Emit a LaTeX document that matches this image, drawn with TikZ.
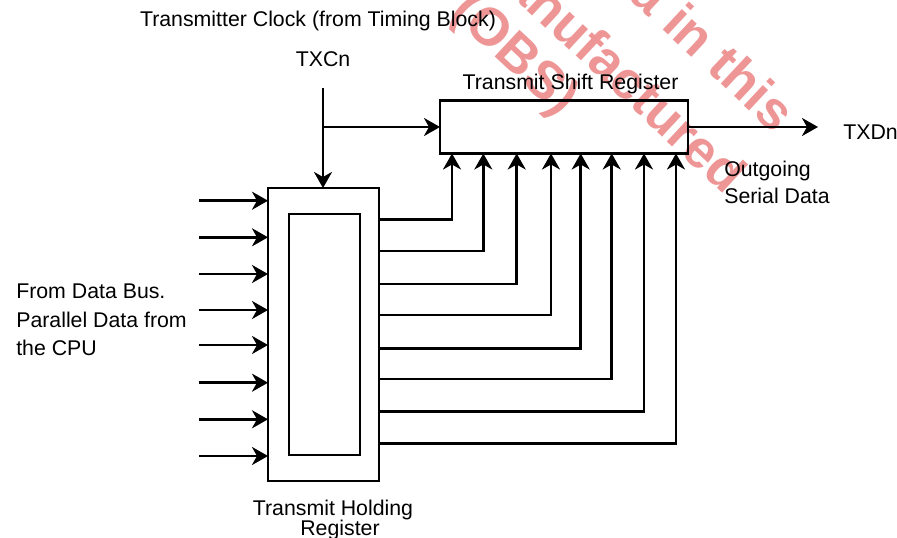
\documentclass[tikz,border=0pt]{standalone}
\usepackage{fontspec}
\setmainfont{Liberation Sans}
\usetikzlibrary{arrows.meta}
\definecolor{wmred}{RGB}{238,150,150}
\begin{document}
\begin{tikzpicture}[x=1pt,y=-1pt,
  line width=2.6pt,
  arr/.style={-{Stealth[length=16pt,width=18pt,inset=5pt]}},
  box/.style={draw,rectangle,inner sep=0pt,outer sep=0pt,fill=none},
  lbl/.style={font=\fontsize{21.3}{25}\selectfont,inner sep=0pt},
  wm/.style={font=\fontsize{53}{60}\selectfont\bfseries,text=wmred,rotate=-43,inner sep=0pt}]
\useasboundingbox (0,0) rectangle (897,538);
% watermark
\begin{scope}
\clip (0,0) rectangle (897,538);
\node[wm] (wm1) at (714,52) {a in this};
\node[wm] (wm2) at (610,62) {manufactured};
\node[wm] (wm3) at (514,56) {(OBS)};
\end{scope}
% boxes
\node[box,minimum width=248pt,minimum height=53pt] (tsr) at (564,127) {};
\node[box,minimum width=111pt,minimum height=293pt] (thr) at (323.5,334.5) {};
\node[box,minimum width=71pt,minimum height=241pt] (thri) at (324.5,334.5) {};
% labels
\node[lbl,anchor=base] (clklbl) at (318,27) {Transmitter Clock (from Timing Block)};
\node[lbl,anchor=base] (txcn) at (323,66.5) {TXCn};
\node[lbl,anchor=base] (tsrlbl) at (570.5,89) {Transmit Shift Register};
\node[lbl,anchor=base west] (txdn) at (842,139) {TXDn};
\node[lbl,anchor=base west] (out1) at (723,176) {Outgoing};
\node[lbl,anchor=base west] (out2) at (723,203) {Serial Data};
\node[lbl,anchor=base west] (fr1) at (15,298.3) {From Data Bus.};
\node[lbl,anchor=base west] (fr2) at (15,327) {Parallel Data from};
\node[lbl,anchor=base west] (fr3) at (15,355.7) {the CPU};
\node[lbl,anchor=base] (thr1) at (333,515) {Transmit Holding};
\node[lbl,anchor=base] (thr2) at (340,535) {Register};
% clock
\coordinate (clk) at (323,88);
\coordinate (br) at (323,127);
\coordinate (txend) at (818,127);
\draw[arr] (clk) -- (clk |- thr.north);
\draw[arr] (br) -- (br -| tsr.west);
\draw[arr] (tsr.east) -- (txend);
% parallel inputs
\foreach \y [count=\i] in {200.7,237.3,274,310,345,382.7,419.3,456}{
  \coordinate (in\i) at (199,\y);
  \draw[arr] (in\i) -- (in\i -| thr.west);
}
% outputs to shift register
\foreach \x/\y [count=\i] in {452/219.5,483.3/251,516.7/284,551/315,580.7/348.3,611.7/379,644/411.7,676/443.3}{
  \coordinate (o\i) at (\x,\y);
  \draw[arr] (thr.east |- o\i) -- (o\i) -- (o\i |- tsr.south);
}
\end{tikzpicture}
\end{document}
